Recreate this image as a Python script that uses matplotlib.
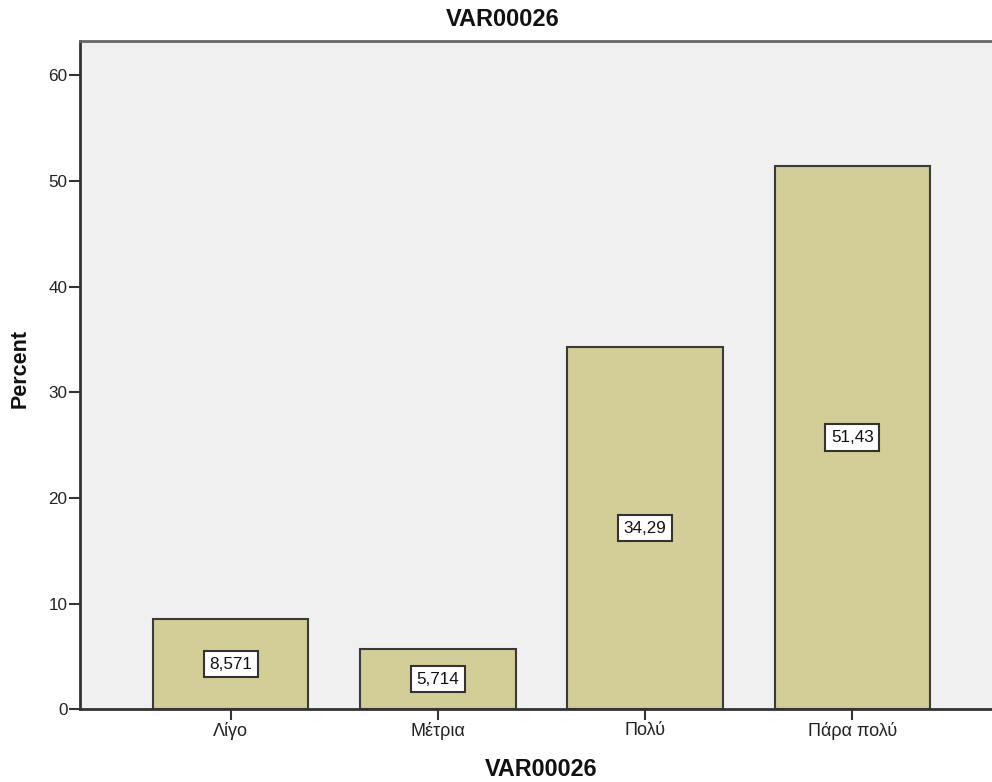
import matplotlib
matplotlib.use("Agg")
import matplotlib.pyplot as plt

# Response categories and their percentages
categories = ["Λίγο", "Μέτρια", "Πολύ", "Πάρα πολύ"]
percent = [8.571, 5.714, 34.29, 51.43]
y_ticks = [0, 10, 20, 30, 40, 50, 60]

title_text = "VAR00026"
x_title = "VAR00026"
y_title = "Percent"

plt.rcParams["font.family"] = ["Liberation Sans", "DejaVu Sans"]

fig = plt.figure(figsize=(9.92, 7.82), dpi=100)
fig.patch.set_facecolor("white")
# plot area runs from x=80 px to past the right edge of the canvas
ax = fig.add_axes([80 / 992, 72.6 / 782, 923 / 992, 668 / 782])
ax.set_facecolor("#f0f0f0")

x = list(range(len(categories)))
ax.bar(x, percent, width=0.75, color="#d3ce97", edgecolor="#3a3a3a",
       linewidth=1.5, zorder=2)

# value labels in white boxes at mid-height of each bar
for xi, v in zip(x, percent):
    label = f"{v:.4g}".replace(".", ",")
    ax.text(xi, v / 2, label, ha="center", va="center", fontsize=12.3,
            color="#111111", zorder=3,
            bbox=dict(boxstyle="square,pad=0.33", facecolor="white",
                      edgecolor="#333333", linewidth=1.5))

ax.set_xlim(-0.727, 3.727)
ax.set_ylim(0, 63.2)
ax.set_xticks(x)
ax.set_xticklabels(categories, fontsize=13, color="#222222")
ax.set_yticks(y_ticks)
ax.set_yticklabels([str(t) for t in y_ticks], fontsize=12.3, color="#222222")
ax.tick_params(axis="both", direction="out", length=8, width=1.5,
               color="#333333", pad=1)

for side in ["left", "bottom"]:
    ax.spines[side].set_color("#333333")
    ax.spines[side].set_linewidth(2)
ax.spines["top"].set_color("#666666")
ax.spines["top"].set_linewidth(2)
ax.spines["right"].set_visible(False)

fig.text(503 / 992, 1 - 20 / 782, title_text, ha="center", va="center",
         fontsize=17, fontweight="bold", color="#111111")
fig.text(541 / 992, 1 - 770 / 782, x_title, ha="center", va="center",
         fontsize=16.8, fontweight="bold", color="#111111")
fig.text(20 / 992, 1 - 368 / 782, y_title, ha="center", va="center",
         rotation=90, fontsize=15.5, fontweight="bold", color="#111111")

fig.savefig("out.png", dpi=100)
